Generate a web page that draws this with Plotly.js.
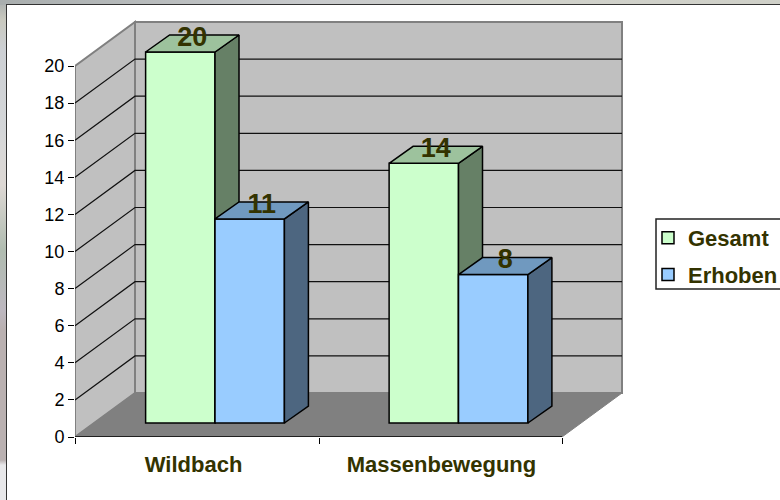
<!DOCTYPE html>
<html><head><meta charset="utf-8">
<script src="https://cdn.plot.ly/plotly-3.0.1.min.js"></script>
<style>
html,body{margin:0;padding:0;width:780px;height:500px;overflow:hidden}
body{background:linear-gradient(180deg,#a9aeae 0,#c9c9bf 4%,#cdd0d4 10%,#d4d6d8 26%,#d8d8d8 29%,#ddd8d4 37%,#b0bcb0 50%,#bdb8c0 62%,#b9b0b0 66%,#b9b0b0 92%,#e8e8ea 93%,#e8e8ea 100%)}
#top{position:absolute;left:0;top:0;width:780px;height:5px;background:linear-gradient(90deg,#a9aeae,#c8cacc 40%,#d0d1ca 70%,#cfd0c8)}
#sheet{position:absolute;left:6px;top:4px;width:780px;height:500px;background:#fff;border:1.5px solid #333;box-sizing:border-box}
#chart{position:absolute;left:0;top:0;width:780px;height:500px}
</style></head><body>
<div id="top"></div><div id="sheet"></div><div id="chart"></div>
<script>
const categories=['Wildbach','Massenbewegung'];
const gesamt=[20,14];
const erhoben=[11,8];
const yTicks=[0,2,4,6,8,10,12,14,16,18,20];

const pxX=243.5, pxY=18.55;             // pixels per category / per unit
const wallDX=60/pxX, wallDY=44/pxY;     // 3D offset of the back wall
const barDX=24/pxX, barDY=17/pxY;       // 3D depth of each column
const base=14/pxY;                      // front of columns sits above the floor edge
const shiftX=0.075, barW=0.285;
const ink='#333300';
const cx=categories.map((c,i)=>i+0.5+shiftX);

const shapes=[];
const poly=(pts)=>'M'+pts.map(p=>p[0]+','+p[1]).join('L')+'Z';
shapes.push({type:'path',xref:'x',yref:'y',layer:'below',
  path:poly([[wallDX,wallDY],[2+wallDX,wallDY],[2+wallDX,20+wallDY],[wallDX,20+wallDY]]),
  fillcolor:'#c0c0c0',line:{color:'#808080',width:2}});
shapes.push({type:'path',xref:'x',yref:'y',layer:'below',
  path:poly([[0,0],[wallDX,wallDY],[wallDX,20+wallDY],[0,20]]),
  fillcolor:'#c0c0c0',line:{color:'#808080',width:2}});
shapes.push({type:'path',xref:'x',yref:'y',layer:'below',
  path:poly([[0,0],[2,0],[2+wallDX,wallDY],[wallDX,wallDY]]),
  fillcolor:'#808080',line:{color:'#808080',width:1}});
yTicks.filter(v=>v>0&&v<20).forEach(v=>{
  shapes.push({type:'path',xref:'x',yref:'y',layer:'below',
    path:'M0,'+v+'L'+wallDX+','+(v+wallDY)+'L'+(2+wallDX)+','+(v+wallDY),
    line:{color:'#111',width:1.2}});
});

function faces(vals,color,topColor,sideColor,sign,xa,ya){
  const out=[];
  vals.forEach((v,i)=>{
    const l=cx[i]+(sign<0?-barW:0), r=l+barW, b=base, t=base+v;
    out.push({type:'scatter',mode:'lines',x:[r,r+barDX,r+barDX,r,r],y:[b,b+barDY,t+barDY,t,b],
      fill:'toself',fillcolor:sideColor,line:{color:'#000',width:1.5},showlegend:false,hoverinfo:'skip',xaxis:xa,yaxis:ya});
    out.push({type:'scatter',mode:'lines',x:[l,r,r+barDX,l+barDX,l],y:[t,t,t+barDY,t+barDY,t],
      fill:'toself',fillcolor:topColor,line:{color:'#000',width:1.5},showlegend:false,hoverinfo:'skip',xaxis:xa,yaxis:ya});
  });
  return out;
}
const barTrace=(name,vals,color,sign,xa,ya)=>({type:'bar',name:name,legendgroup:name,
  x:cx.map(c=>c+sign*barW/2),y:vals,base:vals.map(()=>base),width:barW,
  marker:{color:color,line:{color:'#000',width:1.5}},xaxis:xa,yaxis:ya,
  hovertemplate:name+': %{y}<extra></extra>'});

const labelTrace={type:'scatter',mode:'text',xaxis:'x2',yaxis:'y2',showlegend:false,hoverinfo:'skip',cliponaxis:false,
  x:[...cx.map(c=>c-barW/2+barDX/2),...cx.map(c=>c+barW/2+barDX/2)],
  y:[...gesamt,...erhoben].map(v=>base+v+barDY/2+0.235),
  text:[...gesamt,...erhoben].map(String),textposition:'middle center',
  textfont:{family:'Liberation Sans',size:27,color:ink,weight:700}};

const baseline={type:'scatter',mode:'lines',x:[0,2],y:[0,0],cliponaxis:false,line:{color:'#000',width:1.5},showlegend:false,hoverinfo:'skip'};

const data=[
  baseline,
  barTrace('Gesamt',gesamt,'#ccffcc',-1,'x','y'),
  ...faces(gesamt,'#ccffcc','#9dc29d','#668066',-1,'x','y'),
  barTrace('Erhoben',erhoben,'#99ccff',1,'x2','y2'),
  ...faces(erhoben,'#99ccff','#7099bf','#4d6680',1,'x2','y2'),
  labelTrace
];
const plotW=553, plotH=421;
const xr=[0,plotW/pxX], yr=[0,plotH/pxY];
const layout={
  width:780,height:500,margin:{l:75,r:152,t:16,b:63},autosize:false,
  paper_bgcolor:'rgba(0,0,0,0)',plot_bgcolor:'rgba(0,0,0,0)',
  font:{family:'Liberation Sans',color:'#000'},
  bargap:0,barmode:'overlay',
  xaxis:{type:'linear',range:xr,tickmode:'array',tickvals:[0.487,1.505],ticktext:categories,ticks:'',ticklabelstandoff:12,
    tickfont:{family:'Liberation Sans',size:22,color:ink,weight:700},showgrid:false,zeroline:false,showline:false,
    minor:{tickmode:'array',tickvals:[0,1.006,2],ticks:'outside',ticklen:6,tickwidth:1,tickcolor:'#000',showgrid:false}},
  yaxis:{range:yr,tickmode:'array',tickvals:yTicks,ticks:'outside',ticklen:6,tickwidth:1,tickcolor:'#000',
    tickfont:{family:'Liberation Sans',size:18,color:'#000'},showgrid:false,zeroline:false,showline:false},
  xaxis2:{overlaying:'x',range:xr,visible:false,matches:'x'},
  yaxis2:{overlaying:'y',range:yr,visible:false,matches:'y'},
  shapes:shapes,
  legend:{xref:'container',yref:'container',x:648/780,y:1-217/500,yanchor:'top',xanchor:'left',bgcolor:'rgba(0,0,0,0)',borderwidth:0,
    font:{family:'Liberation Sans',size:22,color:ink,weight:700},traceorder:'grouped',tracegroupgap:5,itemclick:false,itemdoubleclick:false},
  showlegend:true
};
layout.shapes.push({type:'rect',xref:'paper',yref:'paper',x0:(656-75)/plotW,x1:(790-75)/plotW,y0:(437-219)/plotH,y1:(437-289)/plotH,line:{color:'#222',width:1.5},fillcolor:'rgba(0,0,0,0)'});
Plotly.newPlot('chart',data,layout,{displayModeBar:false,staticPlot:true});
</script></body></html>
